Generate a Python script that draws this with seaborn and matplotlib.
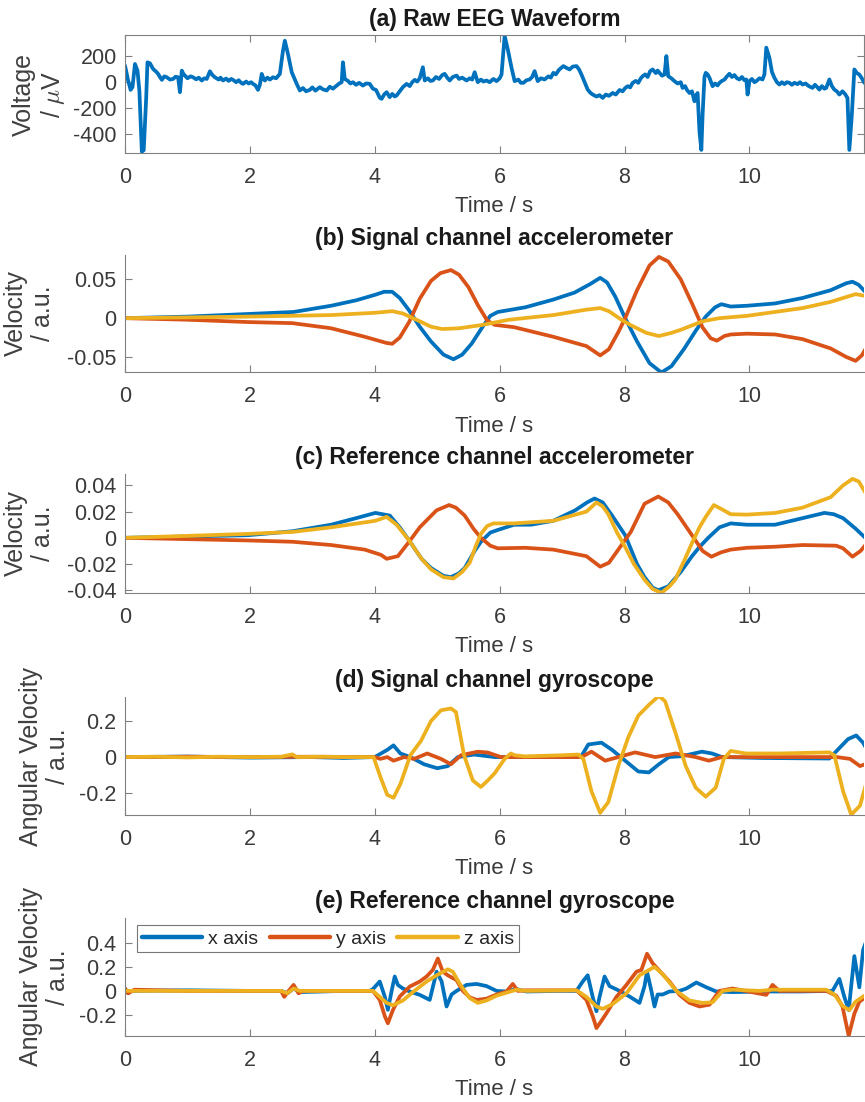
import matplotlib
matplotlib.use("Agg")
import matplotlib.pyplot as plt
from matplotlib import font_manager
import pandas as pd
import seaborn as sns

# ---- data (time in s) ----
# (a) raw EEG, (time, microvolts) pairs
eeg_points = [
    (0.0, 128), (0.05, 13), (0.09, -59), (0.12, -38), (0.16, 140), (0.2, 89), (0.23, -64), (0.27, -535),
    (0.3, -523), (0.34, -115), (0.36, 153), (0.4, 145), (0.45, 102), (0.5, 80), (0.53, 64), (0.56, 40),
    (0.59, 18), (0.63, 45), (0.67, 38), (0.72, 20), (0.77, 25), (0.81, 42), (0.85, 38), (0.88, -77),
    (0.9, 30), (0.91, 89), (0.94, 60), (0.96, 51), (1.0, 30), (1.05, 45), (1.09, 38), (1.14, 22),
    (1.18, 35), (1.23, 13), (1.27, 30), (1.31, 25), (1.36, 84), (1.4, 55), (1.44, 38), (1.5, 20),
    (1.53, 35), (1.57, 13), (1.62, 28), (1.66, 10), (1.7, 25), (1.73, 18), (1.78, 0), (1.82, 15),
    (1.86, -5), (1.89, -13), (1.94, 5), (1.98, -10), (2.02, 0), (2.05, -13), (2.09, -25), (2.13, -59),
    (2.16, -20), (2.19, 64), (2.22, 25), (2.24, 13), (2.28, 35), (2.32, 20), (2.37, 38), (2.42, 30),
    (2.48, 64), (2.53, 242), (2.56, 319), (2.61, 217), (2.67, 77), (2.75, -13), (2.8, -64), (2.85, -45),
    (2.9, -70), (2.96, -59), (3.0, -40), (3.05, -65), (3.12, -38), (3.17, -55), (3.23, -64), (3.28, -35),
    (3.33, -50), (3.39, -26), (3.43, -10), (3.47, 0), (3.49, 153), (3.52, 25), (3.57, 10), (3.61, -10),
    (3.65, 0), (3.7, -20), (3.75, -5), (3.81, -26), (3.86, -10), (3.92, -13), (3.97, -50), (4.02, -60),
    (4.05, -89), (4.08, -120), (4.11, -128), (4.15, -95), (4.19, -77), (4.24, -115), (4.28, -90),
    (4.32, -110), (4.35, -102), (4.4, -70), (4.45, -38), (4.51, -13), (4.56, -30), (4.6, 0), (4.64, 18),
    (4.68, 5), (4.72, 30), (4.77, 115), (4.8, 13), (4.85, 30), (4.89, 10), (4.93, 13), (4.98, 40),
    (5.03, 25), (5.08, 55), (5.12, 64), (5.16, 35), (5.2, 13), (5.25, 40), (5.31, 51), (5.35, 25),
    (5.4, 35), (5.47, 13), (5.52, 30), (5.56, 20), (5.6, 77), (5.65, 0), (5.7, 20), (5.74, 5), (5.79, 13),
    (5.84, 0), (5.9, 25), (5.95, 8), (6.0, 30), (6.03, 59), (6.08, 356), (6.13, 253), (6.19, 111),
    (6.24, 8), (6.3, 20), (6.34, -5), (6.38, -5), (6.43, 15), (6.48, 21), (6.52, 40), (6.56, 85),
    (6.61, 8), (6.66, 30), (6.72, 21), (6.78, 45), (6.82, 35), (6.86, 72), (6.9, 60), (6.95, 95),
    (7.02, 124), (7.07, 110), (7.12, 98), (7.17, 120), (7.23, 124), (7.27, 100), (7.31, 59), (7.36, 0),
    (7.41, -57), (7.45, -80), (7.49, -95), (7.55, -110), (7.6, -100), (7.65, -121), (7.7, -95),
    (7.75, -105), (7.81, -83), (7.86, -95), (7.92, -60), (7.97, -70), (8.01, -45), (8.05, -31),
    (8.09, -40), (8.13, -5), (8.18, 10), (8.22, -5), (8.26, 30), (8.29, 46), (8.33, 60), (8.37, 40),
    (8.41, 85), (8.45, 98), (8.5, 70), (8.53, 90), (8.56, 72), (8.6, 50), (8.64, 59), (8.67, 201),
    (8.7, 46), (8.75, 30), (8.8, 8), (8.85, -10), (8.9, 0), (8.93, -44), (8.97, -30), (9.0, -60),
    (9.04, -83), (9.08, -70), (9.12, -147), (9.15, -100), (9.17, -83), (9.2, -379), (9.23, -521),
    (9.25, -250), (9.28, 40), (9.3, 72), (9.33, 60), (9.36, 34), (9.41, -31), (9.45, -10), (9.49, -25),
    (9.52, -5), (9.56, 10), (9.6, 20), (9.64, 45), (9.68, 65), (9.72, 40), (9.76, 55), (9.8, 30),
    (9.84, 21), (9.88, 40), (9.92, 15), (9.95, 21), (9.97, -95), (10.0, 8), (10.04, 25), (10.08, 0),
    (10.11, 8), (10.16, 30), (10.21, 21), (10.24, 60), (10.27, 266), (10.32, 188), (10.36, 80),
    (10.4, 34), (10.44, 0), (10.48, -18), (10.52, 0), (10.56, -15), (10.6, 0), (10.64, -5), (10.68, -20),
    (10.72, -5), (10.77, -15), (10.81, 0), (10.85, -18), (10.9, -10), (10.95, -30), (11.01, -44),
    (11.05, -20), (11.09, -40), (11.12, -57), (11.16, -30), (11.2, -50), (11.23, -44), (11.28, 21),
    (11.32, -30), (11.36, -57), (11.4, -70), (11.44, -95), (11.49, -70), (11.53, -90), (11.57, -121),
    (11.6, -521), (11.64, -250), (11.68, 98), (11.72, 70), (11.76, 59), (11.8, 30), (11.84, -5),
]
eeg_t = [p[0] for p in eeg_points]
eeg_v = [p[1] for p in eeg_points]

# (b) signal channel accelerometer
b_x_t = [0, 1, 2, 2.7, 3.3, 3.7, 4.0, 4.15, 4.28, 4.4, 4.55, 4.72, 4.9, 5.1, 5.26, 5.4, 5.55, 5.72, 5.85,
         5.97, 6.41, 6.86, 7.2, 7.45, 7.61, 7.72, 7.85, 8.01, 8.2, 8.4, 8.59, 8.75, 8.95, 9.15, 9.3, 9.45,
         9.55, 9.7, 9.96, 10.41, 10.85, 11.3, 11.55, 11.65, 11.75, 11.9]
b_x_v = [0, 0.002, 0.0055, 0.008, 0.016, 0.023, 0.030, 0.034, 0.034, 0.026, 0.010, -0.011, -0.030, -0.047,
         -0.053, -0.047, -0.033, -0.012, 0.003, 0.008, 0.014, 0.024, 0.033, 0.044, 0.052, 0.046, 0.028, 0.0,
         -0.030, -0.058, -0.070, -0.062, -0.040, -0.015, 0.002, 0.014, 0.018, 0.015, 0.016, 0.019, 0.026,
         0.036, 0.045, 0.047, 0.043, 0.030]
b_y_t = [0, 1, 1.97, 2.68, 3.3, 3.84, 4.19, 4.28, 4.4, 4.55, 4.72, 4.9, 5.05, 5.22, 5.35, 5.5, 5.65, 5.8,
         5.92, 6.23, 6.86, 7.39, 7.61, 7.75, 7.9, 8.01, 8.2, 8.4, 8.55, 8.7, 8.9, 9.08, 9.25, 9.38, 9.48,
         9.6, 9.7, 9.96, 10.41, 10.85, 11.3, 11.55, 11.7, 11.8, 11.9]
b_y_v = [0, -0.002, -0.005, -0.0064, -0.013, -0.024, -0.032, -0.033, -0.025, -0.005, 0.025, 0.048, 0.058,
         0.062, 0.056, 0.040, 0.017, -0.003, -0.0086, -0.0116, -0.024, -0.036, -0.048, -0.040, -0.018, 0.0,
         0.036, 0.068, 0.079, 0.073, 0.050, 0.019, -0.012, -0.026, -0.029, -0.023, -0.021, -0.020, -0.021,
         -0.027, -0.039, -0.050, -0.055, -0.048, -0.034]
b_z_t = [0, 1.97, 3.3, 4.01, 4.28, 4.45, 4.72, 4.9, 5.08, 5.35, 5.7, 6.15, 6.86, 7.39, 7.61, 7.75, 7.95,
         8.1, 8.35, 8.55, 8.75, 8.9, 9.25, 9.52, 9.96, 10.85, 11.3, 11.7, 11.9]
b_z_v = [0, 0.002, 0.004, 0.007, 0.009, 0.006, -0.004, -0.011, -0.014, -0.013, -0.009, -0.002, 0.004,
         0.011, 0.013, 0.009, -0.002, -0.009, -0.019, -0.023, -0.019, -0.015, -0.004, 0.0, 0.003, 0.013,
         0.021, 0.031, 0.028]

# (c) reference channel accelerometer
c_x_t = [0, 1, 1.97, 2.68, 3.3, 3.7, 4.01, 4.24, 4.4, 4.55, 4.75, 4.9, 5.1, 5.22, 5.35, 5.44, 5.6, 5.7,
         5.85, 5.97, 6.23, 6.5, 6.86, 7.21, 7.4, 7.52, 7.65, 7.8, 8.01, 8.2, 8.32, 8.45, 8.54, 8.7, 8.9,
         9.08, 9.2, 9.34, 9.52, 9.7, 9.96, 10.41, 10.85, 11.2, 11.35, 11.5, 11.7, 11.9]
c_x_v = [0, 0.001, 0.002, 0.005, 0.010, 0.015, 0.019, 0.017, 0.008, -0.002, -0.016, -0.023, -0.029,
         -0.030, -0.027, -0.023, -0.010, -0.003, 0.004, 0.006, 0.010, 0.010, 0.013, 0.021, 0.027, 0.030,
         0.027, 0.017, 0.002, -0.020, -0.030, -0.038, -0.040, -0.037, -0.026, -0.014, -0.007, 0.0, 0.008,
         0.011, 0.010, 0.010, 0.015, 0.019, 0.018, 0.015, 0.007, -0.002]
c_y_t = [0, 1, 1.97, 2.68, 3.3, 3.84, 4.1, 4.19, 4.37, 4.55, 4.72, 4.99, 5.19, 5.3, 5.44, 5.58, 5.7, 5.85,
         5.97, 6.41, 6.86, 7.39, 7.61, 7.75, 7.9, 8.1, 8.32, 8.54, 8.7, 8.85, 9.08, 9.25, 9.39, 9.55, 9.7,
         9.96, 10.41, 10.85, 11.39, 11.5, 11.65, 11.78, 11.9]
c_y_v = [0, -0.001, -0.002, -0.003, -0.0055, -0.009, -0.013, -0.016, -0.014, -0.003, 0.008, 0.021, 0.025,
         0.023, 0.017, 0.007, 0.0, -0.006, -0.008, -0.0076, -0.009, -0.014, -0.022, -0.019, -0.009, 0.0045,
         0.026, 0.0315, 0.027, 0.018, 0.002, -0.010, -0.0144, -0.011, -0.009, -0.0076, -0.0068, -0.0055,
         -0.006, -0.008, -0.0144, -0.010, -0.003]
c_z_t = [0, 1, 1.97, 2.68, 3.3, 4.01, 4.19, 4.35, 4.55, 4.75, 4.9, 5.1, 5.26, 5.4, 5.52, 5.62, 5.7, 5.8,
         5.9, 6.23, 6.86, 7.39, 7.55, 7.65, 7.74, 7.88, 8.01, 8.15, 8.32, 8.45, 8.59, 8.72, 8.81, 8.95,
         9.08, 9.2, 9.3, 9.43, 9.55, 9.7, 9.96, 10.41, 10.85, 11.3, 11.5, 11.65, 11.75, 11.9]
c_z_v = [0, 0.0015, 0.003, 0.0045, 0.008, 0.013, 0.016, 0.010, -0.002, -0.016, -0.024, -0.030, -0.031,
         -0.026, -0.019, -0.006, 0.003, 0.009, 0.011, 0.011, 0.013, 0.020, 0.027, 0.024, 0.018, 0.004,
         -0.007, -0.020, -0.032, -0.039, -0.042, -0.037, -0.032, -0.018, -0.004, 0.008, 0.016, 0.025,
         0.022, 0.018, 0.0177, 0.019, 0.023, 0.031, 0.040, 0.045, 0.043, 0.031]

# (d) signal channel gyroscope
d_x_t = [0, 1, 2, 3, 3.5, 4.0, 4.2, 4.3, 4.41, 4.57, 4.79, 5.0, 5.17, 5.33, 5.59, 5.92, 7.3, 7.42, 7.63,
         7.8, 8.01, 8.22, 8.39, 8.55, 8.71, 8.92, 9.24, 9.4, 9.56, 10.2, 11.28, 11.44, 11.58, 11.71,
         11.82, 11.9]
d_x_v = [0, 0.003, -0.003, 0.0, -0.005, 0.0, 0.04, 0.065, 0.02, 0.0, -0.04, -0.062, -0.05, 0.0, 0.014,
         0.0, 0.0, 0.07, 0.08, 0.04, -0.02, -0.08, -0.085, -0.04, 0.0, 0.005, 0.03, 0.02, 0.0, -0.005,
         -0.008, 0.05, 0.1, 0.12, 0.08, 0.03]
d_y_t = [0, 1, 2, 3, 4.0, 4.09, 4.2, 4.3, 4.47, 4.63, 4.84, 5.06, 5.22, 5.38, 5.65, 5.81, 6.02, 7.31,
         7.47, 7.69, 7.9, 8.17, 8.49, 8.82, 9.14, 9.35, 9.56, 11.4, 11.61, 11.77, 11.9]
d_y_v = [0, 0.002, 0.0, 0.002, 0.0, -0.01, 0.0, -0.02, 0.0, -0.01, 0.02, -0.01, -0.04, 0.01, 0.03,
         0.025, 0.0, 0.0, 0.03, -0.02, 0.0, 0.026, 0.0, 0.02, 0.0, -0.02, 0.0, 0.0, -0.01, -0.05, -0.034]
d_z_t = [0, 0.5, 1, 1.5, 2, 2.5, 2.68, 2.75, 3.2, 3.5, 3.98, 4.09, 4.2, 4.3, 4.41, 4.57, 4.74, 4.9,
         5.06, 5.22, 5.3, 5.43, 5.57, 5.7, 5.81, 5.92, 6.08, 6.18, 6.24, 6.4, 6.99, 7.26, 7.34, 7.47,
         7.61, 7.74, 7.9, 8.06, 8.22, 8.39, 8.55, 8.65, 8.82, 8.98, 9.14, 9.3, 9.46, 9.59, 9.7, 9.94,
         10.48, 11.28, 11.36, 11.5, 11.63, 11.77, 11.9]
d_z_v = [0, 0.002, -0.002, 0.002, 0.0, 0.002, 0.015, 0.0, 0.002, 0.0, 0.0, -0.11, -0.21, -0.226, -0.15,
         0.01, 0.09, 0.2, 0.26, 0.27, 0.25, 0.01, -0.13, -0.166, -0.13, -0.09, -0.01, 0.02, 0.01, 0.004,
         0.01, 0.014, -0.01, -0.19, -0.31, -0.25, -0.05, 0.11, 0.23, 0.29, 0.34, 0.31, 0.13, -0.05, -0.17,
         -0.22, -0.17, -0.01, 0.034, 0.02, 0.02, 0.026, 0.01, -0.19, -0.32, -0.27, -0.11]

# (e) reference channel gyroscope
e_x_t = [0, 0.05, 0.1, 1, 2, 2.5, 2.6, 2.7, 2.8, 3.5, 3.92, 3.97, 4.08, 4.16, 4.21, 4.27, 4.32, 4.37,
         4.45, 4.56, 4.72, 4.88, 4.99, 5.07, 5.15, 5.23, 5.31, 5.47, 5.63, 5.79, 5.95, 6.11, 6.27, 6.43,
         6.96, 7.23, 7.33, 7.41, 7.49, 7.55, 7.6, 7.68, 7.76, 7.92, 8.08, 8.24, 8.32, 8.36, 8.43, 8.48,
         8.53, 8.61, 8.72, 8.88, 8.99, 9.15, 9.31, 9.47, 9.73, 10.27, 10.8, 11.33, 11.44, 11.52, 11.59,
         11.68, 11.76, 11.82, 11.86]
e_x_v = [0.02, -0.02, 0.0, 0.005, 0.0, 0.0, -0.02, 0.02, -0.01, 0.0, 0.0, 0.015, 0.078, -0.047, -0.158,
         0.0, 0.12, 0.05, 0.02, -0.005, -0.033, -0.075, 0.16, 0.08, -0.13, -0.03, 0.0, 0.05, 0.058, 0.04,
         0.0, -0.005, 0.015, -0.005, 0.0, 0.0, 0.078, 0.13, -0.05, -0.17, -0.05, 0.12, 0.04, 0.0, -0.047,
         -0.1, 0.04, 0.16, 0.0, -0.13, -0.03, -0.03, -0.005, 0.0, 0.02, 0.07, 0.03, -0.005, -0.01, -0.005,
         -0.005, 0.0, 0.1, -0.05, -0.16, 0.29, 0.03, 0.34, 0.4]
e_y_t = [0, 0.05, 0.15, 1, 2, 2.5, 2.55, 2.62, 2.7, 2.78, 2.85, 3.5, 3.97, 4.08, 4.16, 4.21, 4.29, 4.4,
         4.56, 4.72, 4.83, 4.93, 5.01, 5.09, 5.17, 5.31, 5.41, 5.52, 5.63, 5.79, 5.95, 6.11, 6.21, 6.29,
         6.43, 7.23, 7.39, 7.49, 7.55, 7.63, 7.73, 7.87, 8.03, 8.19, 8.27, 8.36, 8.45, 8.59, 8.72, 8.88,
         9.04, 9.2, 9.36, 9.52, 9.73, 10.27, 10.37, 10.48, 11.23, 11.39, 11.49, 11.59, 11.68, 11.76, 11.84]
e_y_v = [0.02, -0.02, 0.01, 0.0, 0.0, 0.0, -0.05, 0.0, 0.05, -0.02, 0.0, 0.0, 0.0, -0.075, -0.21, -0.27,
         -0.16, -0.047, 0.036, 0.078, 0.12, 0.175, 0.27, 0.16, 0.13, 0.09, 0.0, -0.053, -0.075, -0.065,
         -0.03, -0.005, 0.058, 0.0, 0.005, 0.005, -0.075, -0.21, -0.31, -0.25, -0.17, -0.05, 0.05, 0.16,
         0.175, 0.31, 0.23, 0.15, 0.078, -0.033, -0.1, -0.13, -0.115, 0.0, 0.02, -0.033, 0.05, 0.0, 0.0,
         -0.04, -0.13, -0.375, -0.19, -0.09, -0.06]
e_z_t = [0, 1, 2, 2.5, 2.6, 2.7, 2.8, 3.97, 4.08, 4.19, 4.29, 4.45, 4.61, 4.83, 4.99, 5.17, 5.25, 5.36,
         5.52, 5.65, 5.79, 5.95, 6.11, 6.27, 6.43, 7.23, 7.39, 7.55, 7.65, 7.81, 8.03, 8.24, 8.48, 8.61,
         8.83, 9.04, 9.25, 9.41, 9.57, 9.73, 10.16, 10.37, 11.23, 11.36, 11.49, 11.6, 11.7, 11.84]
e_z_v = [0.0, 0.0, 0.0, 0.0, -0.02, 0.02, 0.0, 0.0, -0.05, -0.1, -0.12, -0.08, -0.01, 0.078, 0.13, 0.18,
         0.16, 0.06, -0.06, -0.1, -0.08, -0.04, -0.015, 0.01, 0.0, 0.005, -0.05, -0.13, -0.15, -0.11,
         -0.02, 0.13, 0.2, 0.14, 0.0, -0.08, -0.1, -0.095, 0.0, 0.01, 0.0, 0.01, 0.01, -0.03, -0.125,
         -0.16, -0.09, -0.04]

axis_names = ["x axis", "y axis", "z axis"]
colors = ["#0072BD", "#D95319", "#EDB120"]

# ---- style ----
sns.set_theme(style="ticks")


def pick_font(names):
    for n in names:
        try:
            font_manager.findfont(n, fallback_to_default=False)
            return n
        except Exception:
            pass
    return "DejaVu Sans"


FONT = pick_font(["Liberation Sans", "Noto Sans"])
plt.rcParams["font.family"] = [FONT, "DejaVu Sans"]
plt.rcParams["axes.unicode_minus"] = False
plt.rcParams["mathtext.fontset"] = "cm"

SPINE = "#808080"
TEXT = "#262626"
LW = 2.7


def long_df(ts, vs):
    frames = []
    for name, t, v in zip(axis_names, ts, vs):
        frames.append(pd.DataFrame({"time": t, "value": v, "axis": name}))
    return pd.concat(frames, ignore_index=True)


def style_axis(ax, title, ylabel, ylim, yticks, ylabels, label_x, box=False):
    ax.set_xlim(0, 11.83)
    ax.set_ylim(*ylim)
    ax.set_xticks([0, 2, 4, 6, 8, 10])
    ax.set_xticklabels(["0", "2", "4", "6", "8", "10"])
    ax.set_yticks(yticks)
    ax.set_yticklabels(ylabels)
    ax.tick_params(direction="in", length=5, width=0.8, color=SPINE, labelsize=15.5,
                   labelcolor="#3a3a3a", pad=6)
    ax.tick_params(axis="x", pad=10)
    for side in ["left", "bottom", "top", "right"]:
        ax.spines[side].set_color(SPINE)
        ax.spines[side].set_linewidth(0.8)
    if box:
        ax.tick_params(right=True, top=True)
    else:
        ax.spines["top"].set_visible(False)
        ax.spines["right"].set_visible(False)
    ax.set_title(title, fontsize=16.5, fontweight="bold", color="#1a1a1a", pad=7)
    ax.set_xlabel("Time / s", fontsize=16, color="#3a3a3a", labelpad=6)
    ax.set_ylabel(ylabel, fontsize=18, color="#404040", linespacing=1.15)
    ax.yaxis.set_label_coords(label_x, 0.5)


fig = plt.figure(figsize=(8.65, 11.02), dpi=100)
left, width = 0.1445, 0.854
rects = [(0.861, 0.107), (0.662, 0.107), (0.462, 0.108), (0.2604, 0.107), (0.060, 0.107)]
axes = [fig.add_axes([left, b, width, h]) for b, h in rects]

# (a) raw EEG
sns.lineplot(x=eeg_t, y=eeg_v, ax=axes[0], color=colors[0], linewidth=LW, sort=False, estimator=None)
style_axis(axes[0], "(a) Raw EEG Waveform", "Voltage\n/ $\\mu$V", (-546, 361),
           [-400, -200, 0, 200], ["-400", "-200", "0", "200"], -0.0785, box=True)

panels = [
    ((b_x_t, b_y_t, b_z_t), (b_x_v, b_y_v, b_z_v), "(b) Signal channel accelerometer",
     "Velocity\n/ a.u.", (-0.070, 0.082), [-0.05, 0, 0.05], ["-0.05", "0", "0.05"], -0.095),
    ((c_x_t, c_y_t, c_z_t), (c_x_v, c_y_v, c_z_v), "(c) Reference channel accelerometer",
     "Velocity\n/ a.u.", (-0.042, 0.0488), [-0.04, -0.02, 0, 0.02, 0.04],
     ["-0.04", "-0.02", "0", "0.02", "0.04"], -0.095),
    ((d_x_t, d_y_t, d_z_t), (d_x_v, d_y_v, d_z_v), "(d) Signal channel gyroscope",
     "Angular Velocity\n/ a.u.", (-0.322, 0.333), [-0.2, 0, 0.2], ["-0.2", "0", "0.2"], -0.0744),
    ((e_x_t, e_y_t, e_z_t), (e_x_v, e_y_v, e_z_v), "(e) Reference channel gyroscope",
     "Angular Velocity\n/ a.u.", (-0.375, 0.608), [-0.2, 0, 0.2, 0.4], ["-0.2", "0", "0.2", "0.4"], -0.0744),
]

for i, (ts, vs, title, ylabel, ylim, yt, yl, lx) in enumerate(panels):
    ax = axes[i + 1]
    df = long_df(ts, vs)
    last = i == len(panels) - 1
    sns.lineplot(data=df, x="time", y="value", hue="axis", palette=colors, linewidth=LW,
                 sort=False, estimator=None, ax=ax, legend=last)
    style_axis(ax, title, ylabel, ylim, yt, yl, lx)
    if last:
        handles, labels = ax.get_legend_handles_labels()
        leg = ax.legend(handles, labels, loc="upper left", ncol=3, fontsize=14, frameon=True,
                        fancybox=False, handlelength=3.1, handletextpad=0.3, columnspacing=0.6,
                        borderpad=0.25, borderaxespad=0, bbox_to_anchor=(0.016, 0.94))
        leg.get_frame().set_edgecolor("#555555")
        leg.get_frame().set_linewidth(0.8)
        for t in leg.get_texts():
            t.set_color(TEXT)
        for h in leg.get_lines():
            h.set_linewidth(LW + 0.5)

fig.savefig("out.png", dpi=100)
